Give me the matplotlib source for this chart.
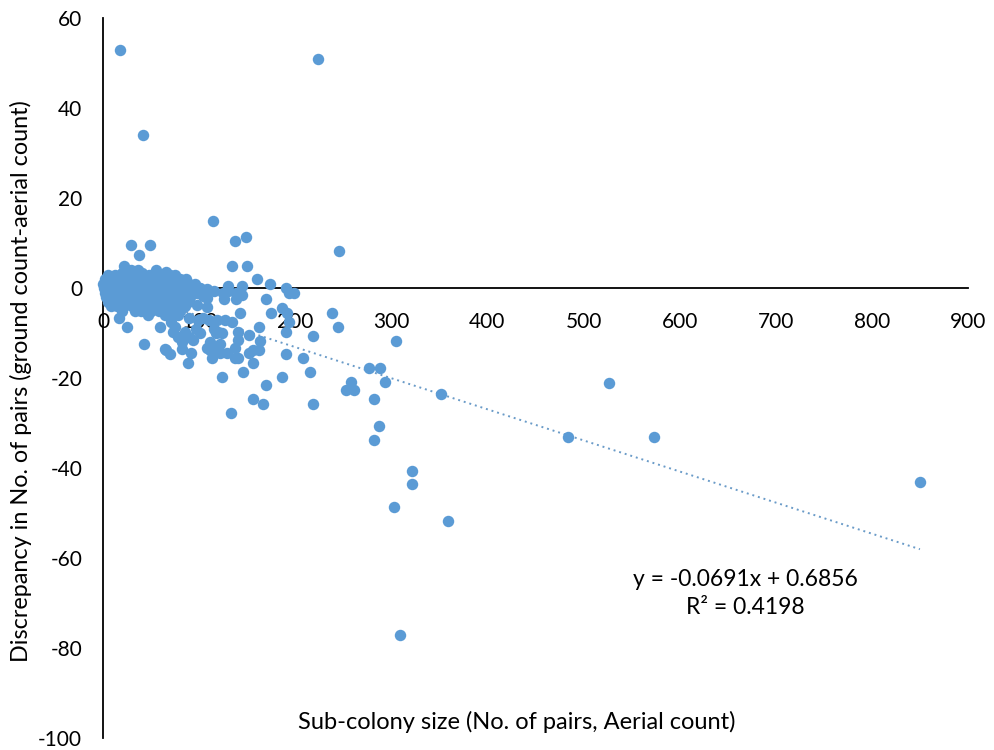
import matplotlib
matplotlib.use("Agg")
import matplotlib.pyplot as plt
import numpy as np

plt.rcParams['font.family'] = ['Lato', 'DejaVu Sans']
plt.rcParams['axes.unicode_minus'] = False

# dense group of small sub-colonies (x = aerial count, y = ground - aerial)
cluster_x = [5, 12, 25, 33, 40, 48, 55, 62, 70, 75,
             2, 8, 14, 20, 27, 35, 44, 52, 60, 66, 72, 80, 86,
             0, 6, 11, 18, 24, 30, 38, 45, 53, 58, 64, 71, 78, 84, 90, 96,
             1, 4, 9, 15, 21, 28, 34, 41, 47, 55, 62, 68, 75, 82, 88, 94, 100,
             2, 7, 13, 19, 26, 32, 39, 46, 51, 59, 65, 73, 79, 86, 92, 98,
             3, 10, 16, 23, 29, 36, 43, 50, 57, 63, 70, 77, 84, 91,
             5, 12, 18, 25, 31, 38, 44, 52, 60, 67, 74, 81, 88,
             8, 15, 22, 30, 37, 45, 55, 63, 70, 78, 85,
             20, 33, 40, 50, 58, 66, 73, 80,
             47, 64, 72, 78, 29, 36, 55, 66, 73, 22]
cluster_y = [3, 3, 3, 3, 3, 3, 3, 3, 3, 3,
             2, 2, 2, 2, 2, 2, 2, 2, 2, 2, 2, 2, 2,
             1, 1, 1, 1, 1, 1, 1, 1, 1, 1, 1, 1, 1, 1, 1, 1,
             0, 0, 0, 0, 0, 0, 0, 0, 0, 0, 0, 0, 0, 0, 0, 0, 0,
             -1, -1, -1, -1, -1, -1, -1, -1, -1, -1, -1, -1, -1, -1, -1, -1,
             -2, -2, -2, -2, -2, -2, -2, -2, -2, -2, -2, -2, -2, -2,
             -3, -3, -3, -3, -3, -3, -3, -3, -3, -3, -3, -3, -3,
             -4, -4, -4, -4, -4, -4, -4, -4, -4, -4, -4,
             -5, -5, -5, -5, -5, -5, -5, -5,
             -6, -6, -6, -6, 4, 4, 4, 3.5, 2.5, 5]

# remaining sub-colonies
other_x = [18, 224, 42, 114, 149, 137, 246, 29, 49, 134, 150, 160, 174, 190, 194, 199,
           37, 41, 20, 16, 50, 61, 68, 75, 83, 101, 108, 116, 130, 130, 145, 145,
           138, 126, 170, 186, 175, 143, 191, 194, 238, 244, 219, 208, 215, 218,
           186, 190, 190, 162, 163, 170, 156, 166, 146, 133, 124, 122, 140, 140,
           137, 137, 140, 152, 152, 156, 162, 156, 111, 111, 108, 116, 113, 120,
           116, 122, 129, 92, 88, 82, 64, 70, 43, 59, 25, 17, 73, 78, 85, 89,
           94, 82, 97, 101, 90, 99, 104, 110, 119, 127, 118, 124, 75, 71, 108,
           98, 104, 108, 125, 138, 66, 134,
           305, 277, 288, 293, 258, 253, 261, 282, 287, 282, 352, 322, 322, 303,
           359, 309, 484, 526, 573, 850]
other_y = [53, 51, 34, 15, 11.3, 10.4, 8.2, 9.5, 9.5, 5, 5, 2, 1, 0, -1, -1,
           7.3, 3.4, 3.3, 2, 2.2, 1.2, 1.2, 0.5, -0.4, 0, -0.2, -0.7, 0.4, -0.7, 0.4, -1.5,
           -2.5, -2.5, -2.5, -4.5, -5.6, -5.6, -5.6, -7.5, -5.6, -8.6, -10.7, -15.6, -18.6, -25.8,
           -19.7, -14.7, -9.7, -8.6, -11.7, -21.6, -24.7, -25.8, -18.6, -27.7, -19.7, -12.5, -9.7, -11.6,
           -13.4, -15.6, -15.6, -10.4, -14.5, -13.8, -13.8, -16.6, -11.9, -13.8, -13.4, -13.8, -15.6, -9.7,
           -9, -14.5, -14.5, -14.5, -16.6, -13.6, -13.6, -14.7, -12.5, -8.6, -8.6, -6.6, -9.7, -10.8, -9.7, -10.8,
           -11.6, -11.9, -9, -10, -6.7, -7.1, -6.7, -7.1, -7.1, -7, -10, -10, -8.6, -7.5, -4.3,
           -3.8, -1.8, -2.3, -1, -1.2, -13.8, -7.5,
           -11.8, -17.7, -17.7, -20.8, -20.8, -22.7, -22.7, -24.7, -30.7, -33.8, -23.6, -40.7, -43.6, -48.7,
           -51.7, -77, -33, -21, -33, -43]

slope = -0.0691
intercept = 0.6856
r_squared = 0.4198

x_ticks = [0, 100, 200, 300, 400, 500, 600, 700, 800, 900]
y_ticks = [-100, -80, -60, -40, -20, 0, 20, 40, 60]

x_all = np.array(cluster_x + other_x, dtype=float)
y_all = np.array(cluster_y + other_y, dtype=float)

fig = plt.figure(figsize=(9.95, 7.5), dpi=100)
ax = fig.add_axes([103 / 995, 1 - 738 / 750, 865 / 995, 720 / 750])

ax.scatter(x_all, y_all, s=68, color='#5B9BD5', linewidths=0, zorder=4, clip_on=False)

xt = np.array([x_all.min(), x_all.max()])
ax.plot(xt, slope * xt + intercept, linestyle=(0, (1, 2)), color='#6A9BC8', lw=1.4, zorder=3)

ax.set_xlim(0, 900)
ax.set_ylim(-100, 60)
ax.set_xticks(x_ticks)
ax.set_yticks(y_ticks)
ax.spines['bottom'].set_position(('data', 0))
for s in ['top', 'right']:
    ax.spines[s].set_visible(False)
for s in ['left', 'bottom']:
    ax.spines[s].set_linewidth(1.3)
    ax.spines[s].set_zorder(2)
ax.tick_params(axis='x', length=0, pad=17, labelsize=15)
ax.tick_params(axis='y', length=0, pad=15, labelsize=15)

fig.text(517 / 995, 1 - 722 / 750, "Sub-colony size (No. of pairs, Aerial count)",
         ha='center', va='center', fontsize=17)
fig.text(21 / 995, 1 - 381 / 750, "Discrepancy in No. of pairs (ground count-aerial count)",
         ha='center', va='center', rotation=90, fontsize=16.8)
fig.text(745 / 995, 1 - 580 / 750, f"y = {slope}x + {intercept}",
         ha='center', va='center', fontsize=16.5)
fig.text(745 / 995, 1 - 607 / 750, f"R\u00b2 = {r_squared}",
         ha='center', va='center', fontsize=16.5)

fig.savefig("out.png", dpi=100)
